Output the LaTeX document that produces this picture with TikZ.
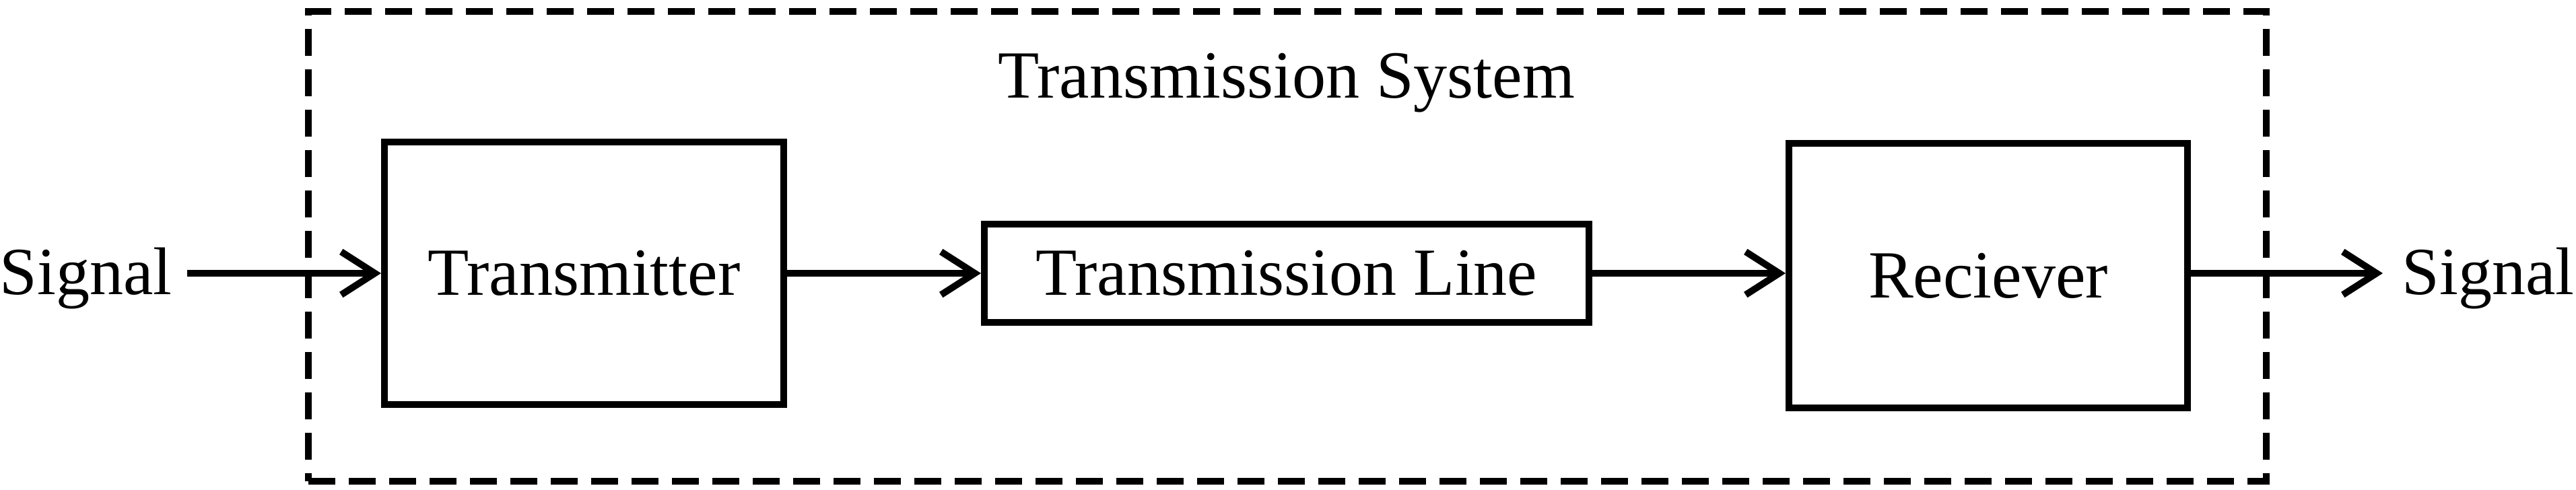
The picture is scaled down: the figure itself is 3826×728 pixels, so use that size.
\documentclass[tikz,border=0pt]{standalone}
\usepackage{fontspec}
\setmainfont{Liberation Serif}
\usetikzlibrary{arrows.meta}
\begin{document}
\begin{tikzpicture}[x=0.1mm,y=-0.1mm,
  lbl/.style={font=\fontsize{28.5}{34}\selectfont, inner sep=0pt},
  blk/.style={draw, line width=1mm, lbl},
  sysbox/.style={draw, line width=1mm, dash pattern=on 4mm off 2mm, inner sep=0pt,
                 minimum width=290.8mm, minimum height=69.8mm},
  conn/.style={line width=1mm, -{Straight Barb[length=5mm,width=6.4mm,sharp]}}]
\useasboundingbox (0,0) rectangle (3826,728);
\node[sysbox] (sys) at (1912,366) {};
\node[lbl, anchor=base] (title) at (1911,146) {Transmission System};
\node[blk, minimum width=59.3mm, minimum height=39.0mm] (tx) at (867.5,406) {Transmitter};
\node[blk, minimum width=89.8mm, minimum height=14.6mm] (tl) at (1911,406) {Transmission Line};
\node[blk, minimum width=59.2mm, minimum height=39.3mm] (rx) at (2953,410) {Reciever};
\node[lbl, anchor=base] (sigin) at (127.5,438) {Signal};
\node[lbl, anchor=base] (sigout) at (3695.5,438) {Signal};
\coordinate (in) at (278,406);
\coordinate (out) at (3539,406);
\draw[conn] (in) -- (tx.west);
\draw[conn] (tx.east) -- (tl.west);
\draw[conn] (tl.east) -- (tl.east -| rx.west);
\draw[conn] (out -| rx.east) -- (out);
\end{tikzpicture}
\end{document}
